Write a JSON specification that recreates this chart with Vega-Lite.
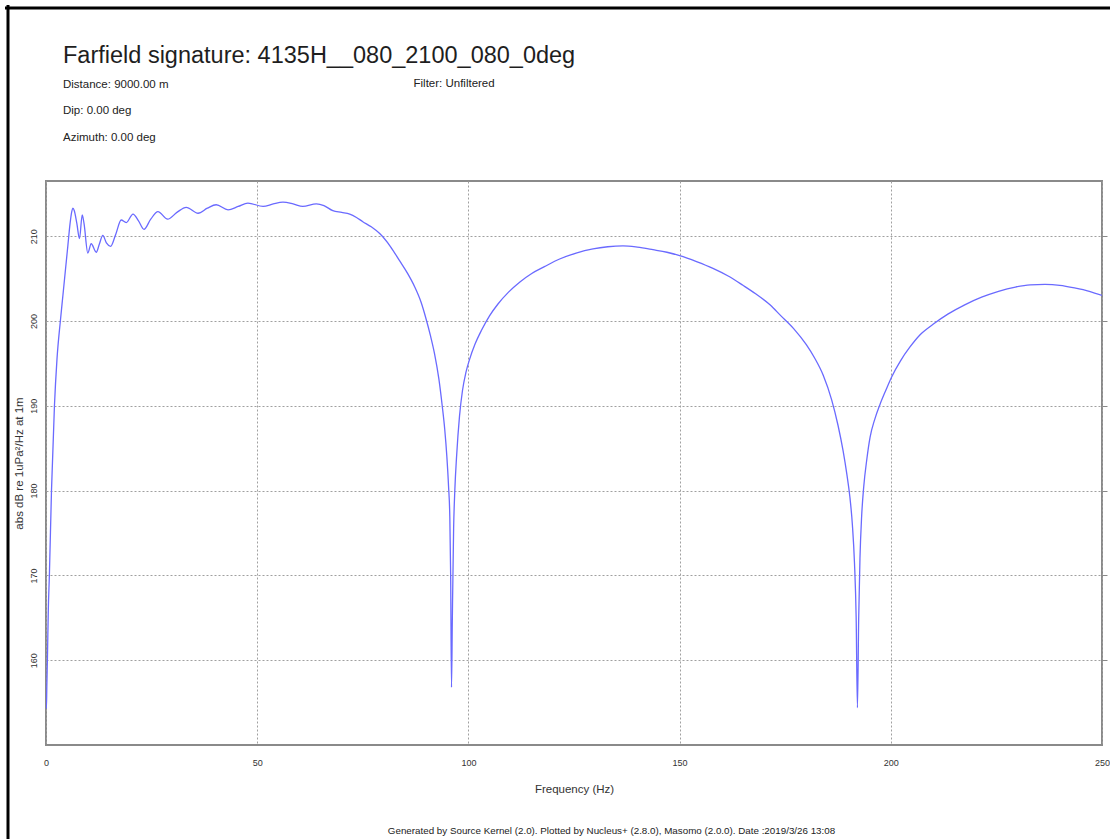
{
  "$schema": "https://vega.github.io/schema/vega-lite/v6.json",
  "width": 1056,
  "height": 564,
  "autosize": {"type": "none"},
  "padding": {"left": 46, "top": 181, "right": 8, "bottom": 94},
  "background": "white",
  "title": {
    "text": "Farfield signature: 4135H__080_2100_080_0deg",
    "subtitle": ["Distance: 9000.00 m", "Dip: 0.00 deg", "Azimuth: 0.00 deg"],
    "anchor": "start",
    "frame": "group",
    "dx": 17,
    "offset": -135.5,
    "font": "Liberation Sans",
    "fontSize": 23.5,
    "fontWeight": "normal",
    "color": "#1e1e1e",
    "subtitleFont": "Liberation Sans",
    "subtitleFontSize": 11.5,
    "subtitleColor": "#222222",
    "subtitleLineHeight": 26.5,
    "subtitlePadding": 11
  },
  "data": {
    "values": [
      {"f": 0, "db": 156.0}, {"f": 0.1, "db": 154.3}, {"f": 0.2, "db": 157.0}, {"f": 0.35, "db": 160.5},
      {"f": 0.55, "db": 166.0}, {"f": 0.8, "db": 170.0}, {"f": 1.3, "db": 180.0}, {"f": 2.0, "db": 190.0},
      {"f": 2.6, "db": 195.5}, {"f": 3.4, "db": 200.0}, {"f": 4.0, "db": 203.0}, {"f": 4.6, "db": 206.0},
      {"f": 5.2, "db": 209.0}, {"f": 5.7, "db": 211.5}, {"f": 6.1, "db": 212.9}, {"f": 6.35, "db": 213.3},
      {"f": 6.7, "db": 213.0}, {"f": 7.3, "db": 211.5}, {"f": 7.93, "db": 209.7}, {"f": 8.57, "db": 212.5},
      {"f": 9.0, "db": 211.5}, {"f": 9.9, "db": 208.0}, {"f": 10.7, "db": 209.1}, {"f": 11.9, "db": 208.1},
      {"f": 12.6, "db": 209.0}, {"f": 13.45, "db": 210.1}, {"f": 14.3, "db": 209.2}, {"f": 15.3, "db": 208.8},
      {"f": 16.5, "db": 210.2}, {"f": 17.8, "db": 211.9}, {"f": 19.0, "db": 211.6}, {"f": 20.6, "db": 212.6},
      {"f": 21.9, "db": 211.8}, {"f": 23.2, "db": 210.8}, {"f": 24.8, "db": 212.0}, {"f": 26.5, "db": 212.9},
      {"f": 28.8, "db": 212.0}, {"f": 31.0, "db": 212.8}, {"f": 33.2, "db": 213.4}, {"f": 36.0, "db": 212.7},
      {"f": 38.2, "db": 213.3}, {"f": 40.3, "db": 213.7}, {"f": 43.1, "db": 213.1}, {"f": 45.5, "db": 213.5},
      {"f": 47.8, "db": 213.9}, {"f": 51.4, "db": 213.5}, {"f": 53.8, "db": 213.8}, {"f": 56.1, "db": 214.0},
      {"f": 58.5, "db": 213.8}, {"f": 60.8, "db": 213.5}, {"f": 64.0, "db": 213.8}, {"f": 65.8, "db": 213.6},
      {"f": 67.9, "db": 213.0}, {"f": 70.0, "db": 212.8}, {"f": 71.9, "db": 212.6}, {"f": 73.5, "db": 212.2},
      {"f": 75.0, "db": 211.7}, {"f": 77.0, "db": 211.1}, {"f": 79.0, "db": 210.3}, {"f": 81.5, "db": 208.8},
      {"f": 83.7, "db": 207.1}, {"f": 85.6, "db": 205.6}, {"f": 87.3, "db": 204.0}, {"f": 88.8, "db": 202.2},
      {"f": 90.0, "db": 200.2}, {"f": 91.0, "db": 198.3}, {"f": 92.0, "db": 196.1}, {"f": 93.0, "db": 193.2},
      {"f": 93.8, "db": 190.0}, {"f": 94.4, "db": 187.2}, {"f": 94.9, "db": 184.0}, {"f": 95.3, "db": 180.5},
      {"f": 95.6, "db": 176.9}, {"f": 95.8, "db": 170.0}, {"f": 96.0, "db": 156.8}, {"f": 96.2, "db": 165.0},
      {"f": 96.5, "db": 175.5}, {"f": 96.8, "db": 180.2}, {"f": 97.2, "db": 184.0}, {"f": 97.9, "db": 188.8},
      {"f": 98.6, "db": 191.8}, {"f": 99.4, "db": 193.9}, {"f": 100.3, "db": 195.5}, {"f": 101.6, "db": 197.3},
      {"f": 103.1, "db": 198.9}, {"f": 105.0, "db": 200.6}, {"f": 107.0, "db": 202.0}, {"f": 109.5, "db": 203.4},
      {"f": 112.2, "db": 204.6}, {"f": 115.0, "db": 205.6}, {"f": 118.0, "db": 206.4}, {"f": 121.6, "db": 207.3},
      {"f": 125.5, "db": 208.0}, {"f": 129.5, "db": 208.5}, {"f": 133.0, "db": 208.75}, {"f": 136.6, "db": 208.85},
      {"f": 140.0, "db": 208.7}, {"f": 143.7, "db": 208.4}, {"f": 147.0, "db": 208.1}, {"f": 150.0, "db": 207.7},
      {"f": 154.0, "db": 207.0}, {"f": 157.9, "db": 206.2}, {"f": 161.5, "db": 205.3}, {"f": 165.0, "db": 204.2},
      {"f": 168.0, "db": 203.2}, {"f": 171.4, "db": 201.9}, {"f": 174.0, "db": 200.6}, {"f": 177.0, "db": 199.1},
      {"f": 180.0, "db": 197.2}, {"f": 182.0, "db": 195.6}, {"f": 184.0, "db": 193.6}, {"f": 186.0, "db": 190.7},
      {"f": 187.5, "db": 187.7}, {"f": 188.7, "db": 184.7}, {"f": 189.6, "db": 181.9}, {"f": 190.3, "db": 179.3},
      {"f": 190.9, "db": 176.0}, {"f": 191.4, "db": 171.5}, {"f": 191.8, "db": 165.0}, {"f": 192.1, "db": 154.4},
      {"f": 192.4, "db": 165.0}, {"f": 192.7, "db": 172.0}, {"f": 193.1, "db": 177.0}, {"f": 193.6, "db": 180.5},
      {"f": 194.3, "db": 183.6}, {"f": 195.1, "db": 186.3}, {"f": 196.2, "db": 188.4}, {"f": 197.4, "db": 190.1},
      {"f": 198.8, "db": 191.8}, {"f": 200.2, "db": 193.4}, {"f": 202.3, "db": 195.3}, {"f": 204.5, "db": 196.9},
      {"f": 207.0, "db": 198.4}, {"f": 210.0, "db": 199.6}, {"f": 213.5, "db": 200.8}, {"f": 217.5, "db": 201.9},
      {"f": 221.5, "db": 202.8}, {"f": 225.5, "db": 203.5}, {"f": 229.5, "db": 204.0}, {"f": 233.0, "db": 204.25},
      {"f": 236.5, "db": 204.3}, {"f": 240.0, "db": 204.2}, {"f": 243.5, "db": 203.9}, {"f": 247.0, "db": 203.5},
      {"f": 250.0, "db": 203.0}
    ]
  },
  "layer": [
    {
      "mark": {"type": "line", "color": "#6a6aff", "strokeWidth": 1.3, "interpolate": "monotone", "clip": true},
      "encoding": {
        "x": {
          "field": "f", "type": "quantitative",
          "scale": {"domain": [0, 250], "nice": false, "zero": false},
          "axis": {
            "orient": "bottom", "values": [0, 50, 100, 150, 200, 250],
            "title": "Frequency (Hz)", "grid": true, "domain": false, "ticks": false,
            "labelPadding": 13, "titlePadding": 16
          }
        },
        "y": {
          "field": "db", "type": "quantitative",
          "scale": {"domain": [150, 216.5], "nice": false, "zero": false},
          "axis": {
            "orient": "left", "values": [160, 170, 180, 190, 200, 210],
            "title": "abs dB re 1uPa²/Hz at 1m", "grid": true, "domain": false, "ticks": false,
            "labelAngle": -90, "labelAlign": "center", "labelBaseline": "bottom",
            "labelPadding": 8, "titlePadding": 5
          }
        }
      }
    },
    {
      "mark": {"type": "line", "opacity": 0},
      "encoding": {
        "x": {
          "field": "f", "type": "quantitative",
          "scale": {"domain": [0, 250], "nice": false, "zero": false, "range": [-40, 1069]},
          "axis": {
            "orient": "top", "offset": 173.5, "labels": false, "ticks": false, "grid": false,
            "domain": true, "domainColor": "#000000", "domainWidth": 3, "domainCap": "square",
            "title": "Filter: Unfiltered", "titleX": 367, "titleY": 79, "titleAlign": "left",
            "titleBaseline": "alphabetic", "titleAngle": 0, "titleFontSize": 11.5, "titleColor": "#222222"
          }
        },
        "y": {
          "field": "db", "type": "quantitative",
          "scale": {"domain": [150, 216.5], "nice": false, "zero": false},
          "axis": {
            "orient": "right", "values": [160, 170, 180, 190, 200, 210],
            "grid": false, "domain": false, "ticks": true, "tickSize": 5, "tickColor": "#888888",
            "labelAngle": -90, "labelAlign": "center", "labelBaseline": "top", "labelPadding": 2,
            "title": "Generated by Source Kernel (2.0). Plotted by Nucleus+ (2.8.0), Masomo (2.0.0). Date :2019/3/26 13:08",
            "titleAngle": 0, "titleX": -491, "titleY": 652, "titleAlign": "center",
            "titleBaseline": "alphabetic", "titleFontSize": 9.8, "titleColor": "#222222"
          }
        }
      }
    },
    {
      "mark": {"type": "line", "opacity": 0},
      "encoding": {
        "x": {
          "field": "f", "type": "quantitative",
          "scale": {"domain": [0, 250], "nice": false, "zero": false},
          "axis": null
        },
        "y": {
          "field": "db", "type": "quantitative",
          "scale": {"domain": [150, 216.5], "nice": false, "zero": false, "range": [664, -175]},
          "axis": {
            "orient": "left", "offset": 38.5, "labels": false, "ticks": false, "grid": false,
            "domain": true, "domainColor": "#000000", "domainWidth": 3, "domainCap": "square",
            "title": null
          }
        }
      }
    }
  ],
  "resolve": {
    "scale": {"x": "independent", "y": "independent"},
    "axis": {"x": "independent", "y": "independent"}
  },
  "config": {
    "view": {"stroke": "#8a8a8a", "strokeWidth": 2},
    "axis": {
      "labelFont": "Liberation Sans", "titleFont": "Liberation Sans",
      "labelColor": "#333333", "titleColor": "#333333", "titleFontWeight": "normal",
      "labelFontSize": 9, "titleFontSize": 11.5, "labelFlush": false, "labelOverlap": false,
      "gridColor": "#a0a0a0", "gridDash": [2, 2], "gridWidth": 1
    }
  }
}
